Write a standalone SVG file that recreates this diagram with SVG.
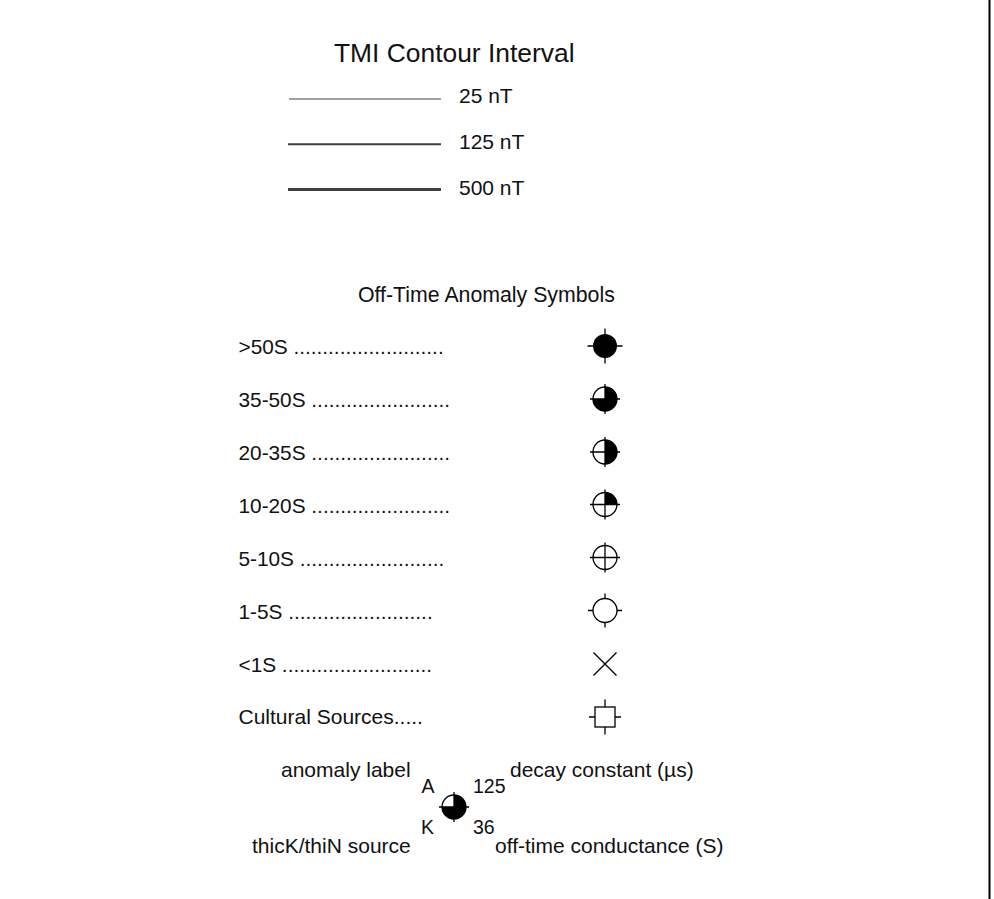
<svg xmlns="http://www.w3.org/2000/svg" width="994" height="899" viewBox="0 0 994 899">
<style>
text{font-family:"Liberation Sans",Arial,sans-serif;font-size:21px;fill:#111}
.m{font-size:19.500px}
.r{font-size:20.800px}
.s{stroke:#000;stroke-width:1.3;fill:none}
.f{fill:#000;stroke:none}
.c{stroke:#404040;fill:none}
</style>
<defs>
<g id="cross"><path class="s" d="M-15 0H15M0-15V15"/><circle class="s" r="12"/></g>
</defs>
<rect width="994" height="899" fill="#fff"/>
<path d="M989.500 0V899" stroke="#000" stroke-width="2" fill="none"/>
<g id="connectors">
<path class="c" stroke-width="1.200" d="M289 99H441"/>
<path class="c" stroke-width="2" d="M288 144.300H441"/>
<path class="c" stroke-width="3" d="M288 189.500H441"/>
</g>
<g id="contour-legend">
<text x="334" y="61.500" style="font-size:26.400px">TMI Contour Interval</text>
<text x="459" y="103">25 nT</text>
<text x="459" y="148.500">125 nT</text>
<text x="459" y="194.500">500 nT</text>
</g>
<text x="358" y="301.500" id="symbols-title" style="font-size:21.300px">Off-Time Anomaly Symbols</text>
<g id="row-gt50"><text class="r" x="238.500" y="353.500">&gt;50S ..........................</text><g transform="translate(605 346)"><path class="s" d="M-17.500 0H17.500M0-17.500V17.500"/><circle class="f" r="12"/></g></g>
<g id="row-35-50"><text class="r" x="238.500" y="406.500">35-50S ........................</text><g transform="translate(605 399)"><use href="#cross"/><path class="f" d="M0-12A12 12 0 1 1-12 0H0Z"/></g></g>
<g id="row-20-35"><text class="r" x="238.500" y="459.500">20-35S ........................</text><g transform="translate(605 452)"><use href="#cross"/><path class="f" d="M0-12A12 12 0 0 1 0 12Z"/></g></g>
<g id="row-10-20"><text class="r" x="238.500" y="512.500">10-20S ........................</text><g transform="translate(605 504.500)"><use href="#cross"/><path class="f" d="M0-12A12 12 0 0 1 12 0H0Z"/></g></g>
<g id="row-5-10"><text class="r" x="238.500" y="565.500">5-10S .........................</text><g transform="translate(605 557.500)"><use href="#cross"/></g></g>
<g id="row-1-5"><text class="r" x="238.500" y="618.500">1-5S .........................</text><g transform="translate(605 610.500)"><path class="s" d="M-17 0H-12M12 0H17M0-17V-12M0 12V17"/><circle class="s" r="12"/></g></g>
<g id="row-lt1"><text class="r" x="238.500" y="671.500">&lt;1S ..........................</text><path class="s" d="M593.500 652.500L616.500 675.500M616.500 652.500L593.500 675.500"/></g>
<g id="row-cultural"><text x="238.500" y="724">Cultural Sources.....</text><g transform="translate(605 717)"><rect class="s" x="-10" y="-10" width="20" height="20"/><path class="s" d="M-16 0H-10M10 0H16M0-17.500V-10M0 10V17.500"/></g></g>
<g id="example">
<text x="281" y="776.500">anomaly label</text>
<text x="421.500" y="793" class="m">A</text>
<text x="473" y="793" class="m">125</text>
<text x="510" y="776.500">decay constant (µs)</text>
<text x="421" y="834" class="m">K</text>
<text x="473" y="834" class="m">36</text>
<text x="252" y="852.500">thicK/thiN source</text>
<text x="495" y="852.500">off-time conductance (S)</text>
<g transform="translate(454 807)"><use href="#cross"/><path class="f" d="M0-12A12 12 0 1 1-12 0H0Z"/></g>
</g>
</svg>
